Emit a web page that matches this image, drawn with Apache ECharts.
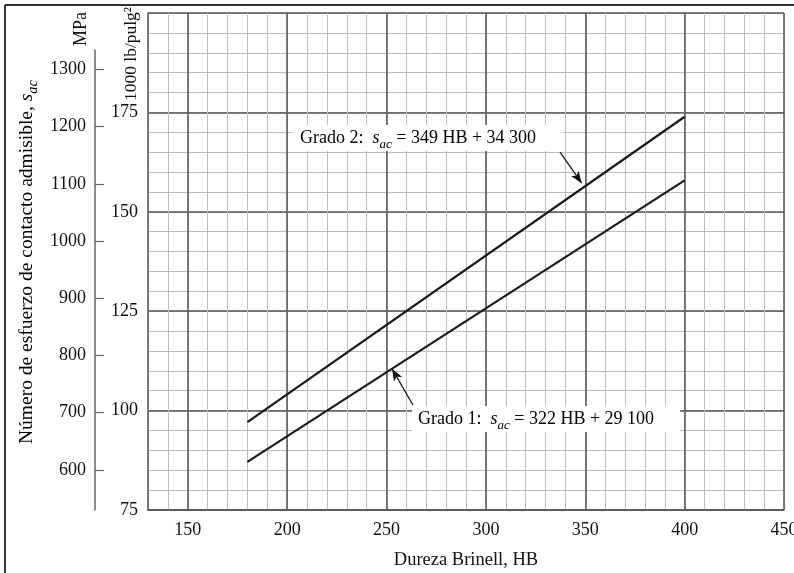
<!DOCTYPE html>
<html>
<head>
<meta charset="utf-8">
<script src="https://cdn.jsdelivr.net/npm/echarts@6/dist/echarts.min.js"></script>
<style>
  html, body { margin: 0; padding: 0; background: #fff; }
  #chart { width: 794px; height: 573px; }
</style>
</head>
<body>
<div id="chart"></div>
<script>
// data
const hbRange = [130, 450];
const ksiRange = [75, 200];
const mpaRange = [530, 1334];
const mpaTicks = [600, 700, 800, 900, 1000, 1100, 1200, 1300];
const grade1 = [[180, 87.1], [400, 157.9]];
const grade2 = [[180, 97.1], [400, 173.9]];
const arrow1 = [[263.3, 101.4], [252.8, 110.5]];
const arrow2 = [[337.3, 165.0], [348.2, 157.2]];

const FONT = 'Liberation Serif';
const INK = '#111';
const MINOR = '#bdbdbd';
const MAJOR = '#555';
const T = 'transparent';

const chart = echarts.init(document.getElementById('chart'));

function richSet(size) {
    return {
        n: { fontFamily: FONT, fontSize: size, color: INK, lineHeight: size + 8 },
        i: { fontFamily: FONT, fontSize: size, fontStyle: 'italic', color: INK, lineHeight: size + 8 },
        sub: { fontFamily: FONT, fontSize: size - 5, fontStyle: 'italic', color: INK, lineHeight: size - 3, verticalAlign: 'bottom' },
    };
}

function arrowLine(pts) {
    return [{ coord: pts[0], symbol: 'none' }, { coord: pts[1], symbol: 'arrow' }];
}

chart.setOption({
    animation: false,
    grid: [
        { left: 148, top: 13, right: 10, bottom: 63, outerBoundsMode: 'none' },
        { left: 95, top: 50, width: 10, bottom: 63, outerBoundsMode: 'none' },
    ],
    xAxis: [
        {
            type: 'value', gridIndex: 0, min: hbRange[0], max: hbRange[1], interval: 10,
            axisLine: { lineStyle: { color: MAJOR, width: 1.5 } },
            axisTick: { show: false },
            axisLabel: {
                margin: 11, fontFamily: FONT, fontSize: 18, color: INK,
                formatter: (v) => (v % 50 === 0 ? String(v) : ''),
            },
            splitLine: { lineStyle: { color: MINOR, width: 1 } },
        },
        {
            type: 'value', gridIndex: 0, min: hbRange[0], max: hbRange[1], interval: 10, position: 'bottom',
            axisLine: { show: false }, axisTick: { show: false }, axisLabel: { show: false },
            splitLine: { lineStyle: { color: [T, T, MAJOR, T, T], width: 1.5 } },
        },
        { type: 'value', gridIndex: 1, show: false, min: 0, max: 1 },
    ],
    yAxis: [
        {
            type: 'value', gridIndex: 0, min: ksiRange[0], max: ksiRange[1], interval: 5,
            axisLine: { show: true, lineStyle: { color: MAJOR, width: 1.5 } },
            axisTick: { show: false },
            axisLabel: {
                margin: 10, fontFamily: FONT, fontSize: 18, color: INK,
                formatter: (v) => (v % 25 === 0 && v < 200 ? String(v) : ''),
            },
            splitLine: { lineStyle: { color: MINOR, width: 1 } },
        },
        {
            type: 'value', gridIndex: 0, min: ksiRange[0], max: ksiRange[1], interval: 5, position: 'left',
            axisLine: { show: false }, axisTick: { show: false }, axisLabel: { show: false },
            splitLine: { lineStyle: { color: [MAJOR, T, T, T, T], width: 1.5 } },
        },
        {
            type: 'value', gridIndex: 1, min: mpaRange[0], max: mpaRange[1], position: 'left',
            axisLine: { show: true, lineStyle: { color: '#666', width: 1.5 } },
            axisTick: { show: true, inside: true, length: 9, customValues: mpaTicks, lineStyle: { color: '#666', width: 1.2 } },
            axisLabel: {
                margin: 9, fontFamily: FONT, fontSize: 18, color: INK, customValues: mpaTicks,
                formatter: (v) => String(v),
            },
            splitLine: { show: false },
        },
    ],
    series: [
        {
            name: 'Grado 1', type: 'line', xAxisIndex: 0, yAxisIndex: 0, data: grade1,
            symbol: 'none', lineStyle: { color: '#1a1a1a', width: 2.2 },
            markLine: {
                silent: true, symbolSize: [7, 12], label: { show: false },
                lineStyle: { color: INK, width: 1.2, type: 'solid' },
                data: [arrowLine(arrow1)],
            },
        },
        {
            name: 'Grado 2', type: 'line', xAxisIndex: 0, yAxisIndex: 0, data: grade2,
            symbol: 'none', lineStyle: { color: '#1a1a1a', width: 2.2 },
            markLine: {
                silent: true, symbolSize: [7, 12], label: { show: false },
                lineStyle: { color: INK, width: 1.2, type: 'solid' },
                data: [arrowLine(arrow2)],
            },
        },
    ],
    graphic: [
        // outer frame (top and left only, the rest is cut off)
        { type: 'line', shape: { x1: 5, y1: 5, x2: 794, y2: 5 }, style: { stroke: '#333', lineWidth: 2 } },
        { type: 'line', shape: { x1: 5, y1: 5, x2: 5, y2: 573 }, style: { stroke: '#333', lineWidth: 2 } },
        {
            type: 'text', x: 81, y: 29, rotation: Math.PI / 2,
            style: { text: 'MPa', fontFamily: FONT, fontSize: 18, fill: INK, align: 'center', verticalAlign: 'middle' },
        },
        {
            type: 'text', x: 131, y: 54, rotation: Math.PI / 2,
            style: { text: '1000 lb/pulg²', fontFamily: FONT, fontSize: 17.5, fill: INK, align: 'center', verticalAlign: 'middle' },
        },
        {
            type: 'text', x: 27, y: 262, rotation: Math.PI / 2,
            style: {
                text: '{n|Número de esfuerzo de contacto admisible, }{i|s}{sub|ac}',
                rich: richSet(19.5), align: 'center', verticalAlign: 'middle',
            },
        },
        {
            type: 'text', x: 466, y: 560,
            style: { text: 'Dureza Brinell, HB', fontFamily: FONT, fontSize: 18.5, fill: INK, align: 'center', verticalAlign: 'middle' },
        },
        {
            type: 'text', x: 293, y: 125, z: 10,
            style: {
                text: '{n|Grado 2:  }{i|s}{sub|ac}{n| = 349 HB + 34 300}',
                rich: richSet(18), backgroundColor: '#fff', padding: [0, 26, 0, 7],
            },
        },
        {
            type: 'text', x: 412, y: 406, z: 10,
            style: {
                text: '{n|Grado 1:  }{i|s}{sub|ac}{n| = 322 HB + 29 100}',
                rich: richSet(18), backgroundColor: '#fff', padding: [0, 26, 0, 6],
            },
        },
    ],
});
</script>
</body>
</html>
